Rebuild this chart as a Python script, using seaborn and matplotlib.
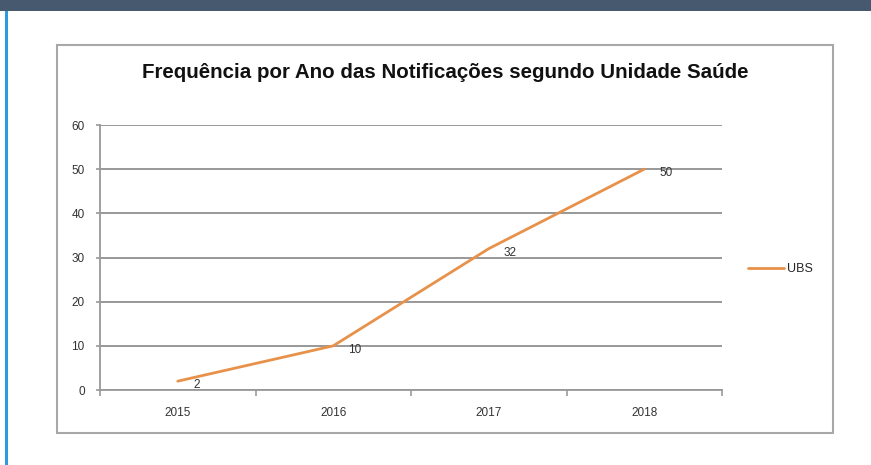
import matplotlib
matplotlib.use("Agg")
import matplotlib.pyplot as plt
from matplotlib.patches import Rectangle
import seaborn as sns
import pandas as pd

# Data
anos = ["2015", "2016", "2017", "2018"]
ubs = [2, 10, 32, 50]
y_ticks = [0, 10, 20, 30, 40, 50, 60]
titulo = "Frequência por Ano das Notificações segundo Unidade Saúde"
serie = "UBS"

sns.set_theme(style="white")
plt.rcParams['font.family'] = ['Liberation Sans', 'DejaVu Sans']

W, H = 871, 465
fig = plt.figure(figsize=(W / 100, H / 100), dpi=100)
fig.patch.set_facecolor("white")

def px(x0, y0, x1, y1):
    return [x0 / W, 1 - y1 / H, (x1 - x0) / W, (y1 - y0) / H]

# header bar & left blue bar
fig.patches.append(Rectangle((0, 1 - 11 / H), 1, 11 / H, transform=fig.transFigure,
                             facecolor="#46596F", edgecolor="none", zorder=-2))
fig.patches.append(Rectangle((5 / W, 0), 3 / W, 1 - 11 / H, transform=fig.transFigure,
                             facecolor="#2E9BE0", edgecolor="none", zorder=-2))
# chart frame
fig.patches.append(Rectangle((57 / W, 1 - 433 / H), (833 - 57) / W, (433 - 45) / H,
                             transform=fig.transFigure, facecolor="white",
                             edgecolor="#A8A8A8", linewidth=1.5, zorder=-2))

ax = fig.add_axes(px(100, 125, 722, 390))
ax.set_zorder(2)
ax.set_facecolor("none")

df = pd.DataFrame({"pos": range(len(anos)), "valor": ubs, "serie": serie})
sns.lineplot(data=df, x="pos", y="valor", hue="serie", palette=["#E8914A"],
             linewidth=2, ax=ax, legend=True)

ax.set_xlim(-0.5, len(anos) - 0.5)
ax.set_ylim(0, 60)
ax.set_yticks(y_ticks)
ax.set_yticklabels([str(v) for v in y_ticks], fontsize=8.5, color="#333333")
ax.set_xticks(range(len(anos)))
ax.set_xticklabels(anos, fontsize=8.5, color="#333333")
ax.set_xticks([i - 0.5 for i in range(len(anos) + 1)], minor=True)
ax.tick_params(axis="x", which="major", bottom=True, length=0, pad=12)
ax.tick_params(axis="x", which="minor", bottom=True, length=4, width=1.2,
               color="#999999", direction="out")
ax.tick_params(axis="y", which="major", left=True, length=3, width=1.2,
               color="#999999", direction="out", pad=8)
ax.set_xlabel("")
ax.set_ylabel("")
ax.grid(axis="y", color="#909090", linewidth=1.3)
ax.set_axisbelow(True)
for s in ["top", "right"]:
    ax.spines[s].set_visible(False)
for s in ["left", "bottom"]:
    ax.spines[s].set_color("#999999")
    ax.spines[s].set_linewidth(1.3)

for i, v in enumerate(ubs):
    ax.annotate(str(v), (i, v), xytext=(11, -3), textcoords="offset points",
                ha="left", va="center", fontsize=8.5, color="#333333")

leg = ax.legend(loc="center left", bbox_to_anchor=(748 / W, 1 - 269 / H),
                bbox_transform=fig.transFigure, frameon=False, fontsize=9,
                handlelength=2.9, handletextpad=0.2, borderpad=0, borderaxespad=0)

fig.text(445 / W, 1 - 72 / H, titulo, ha="center", va="center",
         fontsize=14.8, fontweight="bold", color="#111111", zorder=5)

fig.savefig("out.png", dpi=100, facecolor="white")
